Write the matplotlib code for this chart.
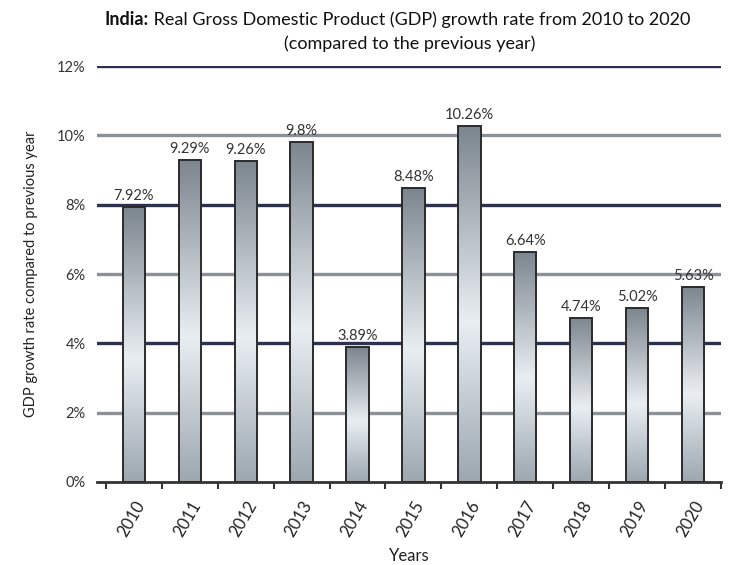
import matplotlib
matplotlib.use("Agg")
import matplotlib.pyplot as plt
import numpy as np
from matplotlib.colors import LinearSegmentedColormap

# data
years = ["2010", "2011", "2012", "2013", "2014", "2015", "2016", "2017", "2018", "2019", "2020"]
growth = [7.92, 9.29, 9.26, 9.8, 3.89, 8.48, 10.26, 6.64, 4.74, 5.02, 5.63]
value_labels = ["7.92%", "9.29%", "9.26%", "9.8%", "3.89%", "8.48%", "10.26%", "6.64%", "4.74%", "5.02%", "5.63%"]
yticks = [0, 2, 4, 6, 8, 10, 12]
ytick_labels = ["0%", "2%", "4%", "6%", "8%", "10%", "12%"]

plt.rcParams['font.family'] = ['Lato', 'DejaVu Sans']

fig = plt.figure(figsize=(7.29, 5.65), dpi=100)
ax = fig.add_axes([0.133, 0.147, 0.856, 0.736])

x = np.arange(len(years))

# alternating grid lines
for i, t in enumerate(yticks[1:]):
    col = '#8c9197' if i % 2 == 0 else '#2c3152'
    ax.axhline(t, color=col, lw=2.4, zorder=1)

bars = ax.bar(x, growth, width=0.4, facecolor='none', edgecolor='#2b2b2b', lw=1.4, zorder=3)

# grey metallic gradient inside each bar
cmap = LinearSegmentedColormap.from_list('metal', [(0, '#7c868f'), (0.55, '#e9eef2'), (1, '#9ca7b0')])
grad = np.linspace(0, 1, 256).reshape(-1, 1)
for b in bars:
    x0, y0 = b.get_x(), b.get_y()
    im = ax.imshow(grad, cmap=cmap, aspect='auto', zorder=2,
                   extent=(x0, x0 + b.get_width(), y0, y0 + b.get_height()), origin='upper')
    im.set_clip_path(b)

for xi, v, lab in zip(x, growth, value_labels):
    ax.text(xi, v + 0.12, lab, ha='center', va='bottom', fontsize=10.5, color='#333333', zorder=4)

ax.set_xlim(-0.66, 10.5)
ax.set_ylim(0, 12)
ax.set_yticks(yticks)
ax.set_yticklabels(ytick_labels, fontsize=10.5, color='#333333')
ax.tick_params(axis='y', length=0, pad=8)

ax.set_xticks(x)
ax.set_xticklabels(years, rotation=60, ha='right', rotation_mode='anchor', fontsize=12, color='#222222')
ax.tick_params(axis='x', which='major', length=0, pad=12)
ax.set_xticks(np.arange(-0.5, len(years), 1), minor=True)
ax.tick_params(axis='x', which='minor', length=5, width=1.5, color='#333333')

for s in ['top', 'right', 'left']:
    ax.spines[s].set_visible(False)
ax.spines['bottom'].set_color('#333333')
ax.spines['bottom'].set_linewidth(2)

ax.set_xlabel("Years", fontsize=12, color='#222222', labelpad=6)
ax.set_ylabel("GDP growth rate compared to previous year", fontsize=10.5, color='#222222', labelpad=14)

# title with bold country name
t1 = fig.text(0.144, 0.965, "India:", ha='left', va='center', fontsize=13, weight='bold', color='#111111')
ax.annotate(" Real Gross Domestic Product (GDP) growth rate from 2010 to 2020",
            xy=(1, 0), xycoords=t1, ha='left', va='bottom', fontsize=13, color='#111111',
            annotation_clip=False)
fig.text(0.562, 0.922, "(compared to the previous year)", ha='center', va='center', fontsize=13, color='#111111')

fig.savefig("out.png", dpi=100)
